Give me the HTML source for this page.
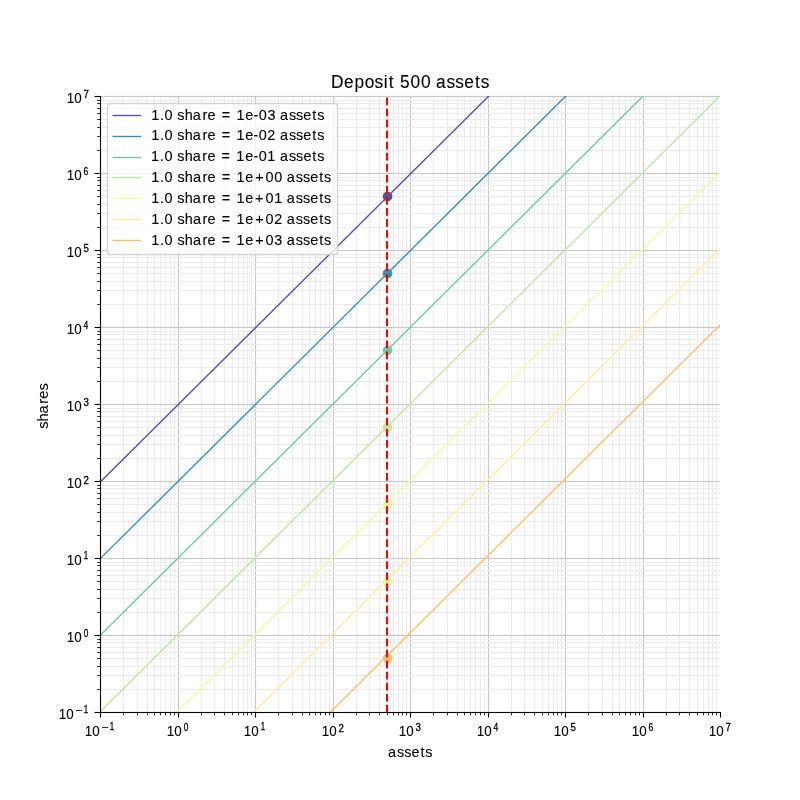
<!DOCTYPE html><html><head><meta charset="utf-8"><title>Deposit 500 assets</title><style>html,body{margin:0;padding:0;background:#fff;width:800px;height:800px;overflow:hidden}svg{display:block;will-change:transform}text{font-family:"Liberation Sans",sans-serif;fill:#000}</style></head><body>
<svg width="800" height="800" viewBox="0 0 800 800">
<defs><clipPath id="ax"><rect x="100" y="96" width="620" height="616"/></clipPath></defs>
<rect width="800" height="800" fill="#fff"/>
<g shape-rendering="crispEdges"><rect x="177" y="96" width="3" height="616" fill="#000" fill-opacity="0.016"/><rect x="178" y="96" width="1" height="616" fill="#c8c8c8"/><rect x="254" y="96" width="3" height="616" fill="#000" fill-opacity="0.016"/><rect x="255" y="96" width="1" height="616" fill="#c8c8c8"/><rect x="332" y="96" width="3" height="616" fill="#000" fill-opacity="0.016"/><rect x="333" y="96" width="1" height="616" fill="#c8c8c8"/><rect x="409" y="96" width="3" height="616" fill="#000" fill-opacity="0.016"/><rect x="410" y="96" width="1" height="616" fill="#c8c8c8"/><rect x="487" y="96" width="3" height="616" fill="#000" fill-opacity="0.016"/><rect x="488" y="96" width="1" height="616" fill="#c8c8c8"/><rect x="564" y="96" width="3" height="616" fill="#000" fill-opacity="0.016"/><rect x="565" y="96" width="1" height="616" fill="#c8c8c8"/><rect x="642" y="96" width="3" height="616" fill="#000" fill-opacity="0.016"/><rect x="643" y="96" width="1" height="616" fill="#c8c8c8"/><rect x="122" y="96" width="3" height="616" fill="#000" fill-opacity="0.008"/><rect x="123" y="96" width="1" height="616" fill="#ececec"/><rect x="136" y="96" width="3" height="616" fill="#000" fill-opacity="0.008"/><rect x="137" y="96" width="1" height="616" fill="#ececec"/><rect x="146" y="96" width="3" height="616" fill="#000" fill-opacity="0.008"/><rect x="147" y="96" width="1" height="616" fill="#ececec"/><rect x="153" y="96" width="3" height="616" fill="#000" fill-opacity="0.008"/><rect x="154" y="96" width="1" height="616" fill="#ececec"/><rect x="159" y="96" width="3" height="616" fill="#000" fill-opacity="0.008"/><rect x="160" y="96" width="1" height="616" fill="#ececec"/><rect x="164" y="96" width="3" height="616" fill="#000" fill-opacity="0.008"/><rect x="165" y="96" width="1" height="616" fill="#ececec"/><rect x="169" y="96" width="3" height="616" fill="#000" fill-opacity="0.008"/><rect x="170" y="96" width="1" height="616" fill="#ececec"/><rect x="173" y="96" width="3" height="616" fill="#000" fill-opacity="0.008"/><rect x="174" y="96" width="1" height="616" fill="#ececec"/><rect x="200" y="96" width="3" height="616" fill="#000" fill-opacity="0.008"/><rect x="201" y="96" width="1" height="616" fill="#ececec"/><rect x="213" y="96" width="3" height="616" fill="#000" fill-opacity="0.008"/><rect x="214" y="96" width="1" height="616" fill="#ececec"/><rect x="223" y="96" width="3" height="616" fill="#000" fill-opacity="0.008"/><rect x="224" y="96" width="1" height="616" fill="#ececec"/><rect x="231" y="96" width="3" height="616" fill="#000" fill-opacity="0.008"/><rect x="232" y="96" width="1" height="616" fill="#ececec"/><rect x="237" y="96" width="3" height="616" fill="#000" fill-opacity="0.008"/><rect x="238" y="96" width="1" height="616" fill="#ececec"/><rect x="242" y="96" width="3" height="616" fill="#000" fill-opacity="0.008"/><rect x="243" y="96" width="1" height="616" fill="#ececec"/><rect x="246" y="96" width="3" height="616" fill="#000" fill-opacity="0.008"/><rect x="247" y="96" width="1" height="616" fill="#ececec"/><rect x="250" y="96" width="3" height="616" fill="#000" fill-opacity="0.008"/><rect x="251" y="96" width="1" height="616" fill="#ececec"/><rect x="277" y="96" width="3" height="616" fill="#000" fill-opacity="0.008"/><rect x="278" y="96" width="1" height="616" fill="#ececec"/><rect x="291" y="96" width="3" height="616" fill="#000" fill-opacity="0.008"/><rect x="292" y="96" width="1" height="616" fill="#ececec"/><rect x="301" y="96" width="3" height="616" fill="#000" fill-opacity="0.008"/><rect x="302" y="96" width="1" height="616" fill="#ececec"/><rect x="308" y="96" width="3" height="616" fill="#000" fill-opacity="0.008"/><rect x="309" y="96" width="1" height="616" fill="#ececec"/><rect x="314" y="96" width="3" height="616" fill="#000" fill-opacity="0.008"/><rect x="315" y="96" width="1" height="616" fill="#ececec"/><rect x="319" y="96" width="3" height="616" fill="#000" fill-opacity="0.008"/><rect x="320" y="96" width="1" height="616" fill="#ececec"/><rect x="324" y="96" width="3" height="616" fill="#000" fill-opacity="0.008"/><rect x="325" y="96" width="1" height="616" fill="#ececec"/><rect x="328" y="96" width="3" height="616" fill="#000" fill-opacity="0.008"/><rect x="329" y="96" width="1" height="616" fill="#ececec"/><rect x="355" y="96" width="3" height="616" fill="#000" fill-opacity="0.008"/><rect x="356" y="96" width="1" height="616" fill="#ececec"/><rect x="368" y="96" width="3" height="616" fill="#000" fill-opacity="0.008"/><rect x="369" y="96" width="1" height="616" fill="#ececec"/><rect x="378" y="96" width="3" height="616" fill="#000" fill-opacity="0.008"/><rect x="379" y="96" width="1" height="616" fill="#ececec"/><rect x="386" y="96" width="3" height="616" fill="#000" fill-opacity="0.008"/><rect x="387" y="96" width="1" height="616" fill="#ececec"/><rect x="392" y="96" width="3" height="616" fill="#000" fill-opacity="0.008"/><rect x="393" y="96" width="1" height="616" fill="#ececec"/><rect x="397" y="96" width="3" height="616" fill="#000" fill-opacity="0.008"/><rect x="398" y="96" width="1" height="616" fill="#ececec"/><rect x="401" y="96" width="3" height="616" fill="#000" fill-opacity="0.008"/><rect x="402" y="96" width="1" height="616" fill="#ececec"/><rect x="405" y="96" width="3" height="616" fill="#000" fill-opacity="0.008"/><rect x="406" y="96" width="1" height="616" fill="#ececec"/><rect x="432" y="96" width="3" height="616" fill="#000" fill-opacity="0.008"/><rect x="433" y="96" width="1" height="616" fill="#ececec"/><rect x="446" y="96" width="3" height="616" fill="#000" fill-opacity="0.008"/><rect x="447" y="96" width="1" height="616" fill="#ececec"/><rect x="456" y="96" width="3" height="616" fill="#000" fill-opacity="0.008"/><rect x="457" y="96" width="1" height="616" fill="#ececec"/><rect x="463" y="96" width="3" height="616" fill="#000" fill-opacity="0.008"/><rect x="464" y="96" width="1" height="616" fill="#ececec"/><rect x="469" y="96" width="3" height="616" fill="#000" fill-opacity="0.008"/><rect x="470" y="96" width="1" height="616" fill="#ececec"/><rect x="474" y="96" width="3" height="616" fill="#000" fill-opacity="0.008"/><rect x="475" y="96" width="1" height="616" fill="#ececec"/><rect x="479" y="96" width="3" height="616" fill="#000" fill-opacity="0.008"/><rect x="480" y="96" width="1" height="616" fill="#ececec"/><rect x="483" y="96" width="3" height="616" fill="#000" fill-opacity="0.008"/><rect x="484" y="96" width="1" height="616" fill="#ececec"/><rect x="510" y="96" width="3" height="616" fill="#000" fill-opacity="0.008"/><rect x="511" y="96" width="1" height="616" fill="#ececec"/><rect x="523" y="96" width="3" height="616" fill="#000" fill-opacity="0.008"/><rect x="524" y="96" width="1" height="616" fill="#ececec"/><rect x="533" y="96" width="3" height="616" fill="#000" fill-opacity="0.008"/><rect x="534" y="96" width="1" height="616" fill="#ececec"/><rect x="541" y="96" width="3" height="616" fill="#000" fill-opacity="0.008"/><rect x="542" y="96" width="1" height="616" fill="#ececec"/><rect x="547" y="96" width="3" height="616" fill="#000" fill-opacity="0.008"/><rect x="548" y="96" width="1" height="616" fill="#ececec"/><rect x="552" y="96" width="3" height="616" fill="#000" fill-opacity="0.008"/><rect x="553" y="96" width="1" height="616" fill="#ececec"/><rect x="556" y="96" width="3" height="616" fill="#000" fill-opacity="0.008"/><rect x="557" y="96" width="1" height="616" fill="#ececec"/><rect x="560" y="96" width="3" height="616" fill="#000" fill-opacity="0.008"/><rect x="561" y="96" width="1" height="616" fill="#ececec"/><rect x="587" y="96" width="3" height="616" fill="#000" fill-opacity="0.008"/><rect x="588" y="96" width="1" height="616" fill="#ececec"/><rect x="601" y="96" width="3" height="616" fill="#000" fill-opacity="0.008"/><rect x="602" y="96" width="1" height="616" fill="#ececec"/><rect x="611" y="96" width="3" height="616" fill="#000" fill-opacity="0.008"/><rect x="612" y="96" width="1" height="616" fill="#ececec"/><rect x="618" y="96" width="3" height="616" fill="#000" fill-opacity="0.008"/><rect x="619" y="96" width="1" height="616" fill="#ececec"/><rect x="624" y="96" width="3" height="616" fill="#000" fill-opacity="0.008"/><rect x="625" y="96" width="1" height="616" fill="#ececec"/><rect x="629" y="96" width="3" height="616" fill="#000" fill-opacity="0.008"/><rect x="630" y="96" width="1" height="616" fill="#ececec"/><rect x="634" y="96" width="3" height="616" fill="#000" fill-opacity="0.008"/><rect x="635" y="96" width="1" height="616" fill="#ececec"/><rect x="638" y="96" width="3" height="616" fill="#000" fill-opacity="0.008"/><rect x="639" y="96" width="1" height="616" fill="#ececec"/><rect x="665" y="96" width="3" height="616" fill="#000" fill-opacity="0.008"/><rect x="666" y="96" width="1" height="616" fill="#ececec"/><rect x="678" y="96" width="3" height="616" fill="#000" fill-opacity="0.008"/><rect x="679" y="96" width="1" height="616" fill="#ececec"/><rect x="688" y="96" width="3" height="616" fill="#000" fill-opacity="0.008"/><rect x="689" y="96" width="1" height="616" fill="#ececec"/><rect x="696" y="96" width="3" height="616" fill="#000" fill-opacity="0.008"/><rect x="697" y="96" width="1" height="616" fill="#ececec"/><rect x="702" y="96" width="3" height="616" fill="#000" fill-opacity="0.008"/><rect x="703" y="96" width="1" height="616" fill="#ececec"/><rect x="707" y="96" width="3" height="616" fill="#000" fill-opacity="0.008"/><rect x="708" y="96" width="1" height="616" fill="#ececec"/><rect x="711" y="96" width="3" height="616" fill="#000" fill-opacity="0.008"/><rect x="712" y="96" width="1" height="616" fill="#ececec"/><rect x="715" y="96" width="3" height="616" fill="#000" fill-opacity="0.008"/><rect x="716" y="96" width="1" height="616" fill="#ececec"/><rect x="100" y="634" width="620" height="3" fill="#000" fill-opacity="0.016"/><rect x="100" y="635" width="620" height="1" fill="#c8c8c8"/><rect x="100" y="557" width="620" height="3" fill="#000" fill-opacity="0.016"/><rect x="100" y="558" width="620" height="1" fill="#c8c8c8"/><rect x="100" y="480" width="620" height="3" fill="#000" fill-opacity="0.016"/><rect x="100" y="481" width="620" height="1" fill="#c8c8c8"/><rect x="100" y="403" width="620" height="3" fill="#000" fill-opacity="0.016"/><rect x="100" y="404" width="620" height="1" fill="#c8c8c8"/><rect x="100" y="326" width="620" height="3" fill="#000" fill-opacity="0.016"/><rect x="100" y="327" width="620" height="1" fill="#c8c8c8"/><rect x="100" y="249" width="620" height="3" fill="#000" fill-opacity="0.016"/><rect x="100" y="250" width="620" height="1" fill="#c8c8c8"/><rect x="100" y="172" width="620" height="3" fill="#000" fill-opacity="0.016"/><rect x="100" y="173" width="620" height="1" fill="#c8c8c8"/><rect x="100" y="95" width="620" height="3" fill="#000" fill-opacity="0.016"/><rect x="100" y="96" width="620" height="1" fill="#c8c8c8"/><rect x="100" y="688" width="620" height="3" fill="#000" fill-opacity="0.008"/><rect x="100" y="689" width="620" height="1" fill="#ececec"/><rect x="100" y="674" width="620" height="3" fill="#000" fill-opacity="0.008"/><rect x="100" y="675" width="620" height="1" fill="#ececec"/><rect x="100" y="665" width="620" height="3" fill="#000" fill-opacity="0.008"/><rect x="100" y="666" width="620" height="1" fill="#ececec"/><rect x="100" y="657" width="620" height="3" fill="#000" fill-opacity="0.008"/><rect x="100" y="658" width="620" height="1" fill="#ececec"/><rect x="100" y="651" width="620" height="3" fill="#000" fill-opacity="0.008"/><rect x="100" y="652" width="620" height="1" fill="#ececec"/><rect x="100" y="646" width="620" height="3" fill="#000" fill-opacity="0.008"/><rect x="100" y="647" width="620" height="1" fill="#ececec"/><rect x="100" y="641" width="620" height="3" fill="#000" fill-opacity="0.008"/><rect x="100" y="642" width="620" height="1" fill="#ececec"/><rect x="100" y="638" width="620" height="3" fill="#000" fill-opacity="0.008"/><rect x="100" y="639" width="620" height="1" fill="#ececec"/><rect x="100" y="611" width="620" height="3" fill="#000" fill-opacity="0.008"/><rect x="100" y="612" width="620" height="1" fill="#ececec"/><rect x="100" y="597" width="620" height="3" fill="#000" fill-opacity="0.008"/><rect x="100" y="598" width="620" height="1" fill="#ececec"/><rect x="100" y="588" width="620" height="3" fill="#000" fill-opacity="0.008"/><rect x="100" y="589" width="620" height="1" fill="#ececec"/><rect x="100" y="580" width="620" height="3" fill="#000" fill-opacity="0.008"/><rect x="100" y="581" width="620" height="1" fill="#ececec"/><rect x="100" y="574" width="620" height="3" fill="#000" fill-opacity="0.008"/><rect x="100" y="575" width="620" height="1" fill="#ececec"/><rect x="100" y="569" width="620" height="3" fill="#000" fill-opacity="0.008"/><rect x="100" y="570" width="620" height="1" fill="#ececec"/><rect x="100" y="564" width="620" height="3" fill="#000" fill-opacity="0.008"/><rect x="100" y="565" width="620" height="1" fill="#ececec"/><rect x="100" y="561" width="620" height="3" fill="#000" fill-opacity="0.008"/><rect x="100" y="562" width="620" height="1" fill="#ececec"/><rect x="100" y="534" width="620" height="3" fill="#000" fill-opacity="0.008"/><rect x="100" y="535" width="620" height="1" fill="#ececec"/><rect x="100" y="520" width="620" height="3" fill="#000" fill-opacity="0.008"/><rect x="100" y="521" width="620" height="1" fill="#ececec"/><rect x="100" y="511" width="620" height="3" fill="#000" fill-opacity="0.008"/><rect x="100" y="512" width="620" height="1" fill="#ececec"/><rect x="100" y="503" width="620" height="3" fill="#000" fill-opacity="0.008"/><rect x="100" y="504" width="620" height="1" fill="#ececec"/><rect x="100" y="497" width="620" height="3" fill="#000" fill-opacity="0.008"/><rect x="100" y="498" width="620" height="1" fill="#ececec"/><rect x="100" y="492" width="620" height="3" fill="#000" fill-opacity="0.008"/><rect x="100" y="493" width="620" height="1" fill="#ececec"/><rect x="100" y="487" width="620" height="3" fill="#000" fill-opacity="0.008"/><rect x="100" y="488" width="620" height="1" fill="#ececec"/><rect x="100" y="484" width="620" height="3" fill="#000" fill-opacity="0.008"/><rect x="100" y="485" width="620" height="1" fill="#ececec"/><rect x="100" y="457" width="620" height="3" fill="#000" fill-opacity="0.008"/><rect x="100" y="458" width="620" height="1" fill="#ececec"/><rect x="100" y="443" width="620" height="3" fill="#000" fill-opacity="0.008"/><rect x="100" y="444" width="620" height="1" fill="#ececec"/><rect x="100" y="434" width="620" height="3" fill="#000" fill-opacity="0.008"/><rect x="100" y="435" width="620" height="1" fill="#ececec"/><rect x="100" y="426" width="620" height="3" fill="#000" fill-opacity="0.008"/><rect x="100" y="427" width="620" height="1" fill="#ececec"/><rect x="100" y="420" width="620" height="3" fill="#000" fill-opacity="0.008"/><rect x="100" y="421" width="620" height="1" fill="#ececec"/><rect x="100" y="415" width="620" height="3" fill="#000" fill-opacity="0.008"/><rect x="100" y="416" width="620" height="1" fill="#ececec"/><rect x="100" y="410" width="620" height="3" fill="#000" fill-opacity="0.008"/><rect x="100" y="411" width="620" height="1" fill="#ececec"/><rect x="100" y="407" width="620" height="3" fill="#000" fill-opacity="0.008"/><rect x="100" y="408" width="620" height="1" fill="#ececec"/><rect x="100" y="380" width="620" height="3" fill="#000" fill-opacity="0.008"/><rect x="100" y="381" width="620" height="1" fill="#ececec"/><rect x="100" y="366" width="620" height="3" fill="#000" fill-opacity="0.008"/><rect x="100" y="367" width="620" height="1" fill="#ececec"/><rect x="100" y="357" width="620" height="3" fill="#000" fill-opacity="0.008"/><rect x="100" y="358" width="620" height="1" fill="#ececec"/><rect x="100" y="349" width="620" height="3" fill="#000" fill-opacity="0.008"/><rect x="100" y="350" width="620" height="1" fill="#ececec"/><rect x="100" y="343" width="620" height="3" fill="#000" fill-opacity="0.008"/><rect x="100" y="344" width="620" height="1" fill="#ececec"/><rect x="100" y="338" width="620" height="3" fill="#000" fill-opacity="0.008"/><rect x="100" y="339" width="620" height="1" fill="#ececec"/><rect x="100" y="333" width="620" height="3" fill="#000" fill-opacity="0.008"/><rect x="100" y="334" width="620" height="1" fill="#ececec"/><rect x="100" y="330" width="620" height="3" fill="#000" fill-opacity="0.008"/><rect x="100" y="331" width="620" height="1" fill="#ececec"/><rect x="100" y="303" width="620" height="3" fill="#000" fill-opacity="0.008"/><rect x="100" y="304" width="620" height="1" fill="#ececec"/><rect x="100" y="289" width="620" height="3" fill="#000" fill-opacity="0.008"/><rect x="100" y="290" width="620" height="1" fill="#ececec"/><rect x="100" y="280" width="620" height="3" fill="#000" fill-opacity="0.008"/><rect x="100" y="281" width="620" height="1" fill="#ececec"/><rect x="100" y="272" width="620" height="3" fill="#000" fill-opacity="0.008"/><rect x="100" y="273" width="620" height="1" fill="#ececec"/><rect x="100" y="266" width="620" height="3" fill="#000" fill-opacity="0.008"/><rect x="100" y="267" width="620" height="1" fill="#ececec"/><rect x="100" y="261" width="620" height="3" fill="#000" fill-opacity="0.008"/><rect x="100" y="262" width="620" height="1" fill="#ececec"/><rect x="100" y="256" width="620" height="3" fill="#000" fill-opacity="0.008"/><rect x="100" y="257" width="620" height="1" fill="#ececec"/><rect x="100" y="253" width="620" height="3" fill="#000" fill-opacity="0.008"/><rect x="100" y="254" width="620" height="1" fill="#ececec"/><rect x="100" y="226" width="620" height="3" fill="#000" fill-opacity="0.008"/><rect x="100" y="227" width="620" height="1" fill="#ececec"/><rect x="100" y="212" width="620" height="3" fill="#000" fill-opacity="0.008"/><rect x="100" y="213" width="620" height="1" fill="#ececec"/><rect x="100" y="203" width="620" height="3" fill="#000" fill-opacity="0.008"/><rect x="100" y="204" width="620" height="1" fill="#ececec"/><rect x="100" y="195" width="620" height="3" fill="#000" fill-opacity="0.008"/><rect x="100" y="196" width="620" height="1" fill="#ececec"/><rect x="100" y="189" width="620" height="3" fill="#000" fill-opacity="0.008"/><rect x="100" y="190" width="620" height="1" fill="#ececec"/><rect x="100" y="184" width="620" height="3" fill="#000" fill-opacity="0.008"/><rect x="100" y="185" width="620" height="1" fill="#ececec"/><rect x="100" y="179" width="620" height="3" fill="#000" fill-opacity="0.008"/><rect x="100" y="180" width="620" height="1" fill="#ececec"/><rect x="100" y="176" width="620" height="3" fill="#000" fill-opacity="0.008"/><rect x="100" y="177" width="620" height="1" fill="#ececec"/><rect x="100" y="149" width="620" height="3" fill="#000" fill-opacity="0.008"/><rect x="100" y="150" width="620" height="1" fill="#ececec"/><rect x="100" y="135" width="620" height="3" fill="#000" fill-opacity="0.008"/><rect x="100" y="136" width="620" height="1" fill="#ececec"/><rect x="100" y="126" width="620" height="3" fill="#000" fill-opacity="0.008"/><rect x="100" y="127" width="620" height="1" fill="#ececec"/><rect x="100" y="118" width="620" height="3" fill="#000" fill-opacity="0.008"/><rect x="100" y="119" width="620" height="1" fill="#ececec"/><rect x="100" y="112" width="620" height="3" fill="#000" fill-opacity="0.008"/><rect x="100" y="113" width="620" height="1" fill="#ececec"/><rect x="100" y="107" width="620" height="3" fill="#000" fill-opacity="0.008"/><rect x="100" y="108" width="620" height="1" fill="#ececec"/><rect x="100" y="102" width="620" height="3" fill="#000" fill-opacity="0.008"/><rect x="100" y="103" width="620" height="1" fill="#ececec"/><rect x="100" y="99" width="620" height="3" fill="#000" fill-opacity="0.008"/><rect x="100" y="100" width="620" height="1" fill="#ececec"/></g>
<g clip-path="url(#ax)"><line x1="23.800" y1="558.000" x2="798.800" y2="-212.000" stroke="#5e4fa2" stroke-width="1.389"/><line x1="23.400" y1="635.000" x2="798.400" y2="-135.000" stroke="#378ebb" stroke-width="1.389"/><line x1="23.100" y1="712.000" x2="798.100" y2="-58.000" stroke="#74c7a5" stroke-width="1.389"/><line x1="22.500" y1="789.000" x2="797.500" y2="19.000" stroke="#bfe5a0" stroke-width="1.389"/><line x1="22.000" y1="866.000" x2="797.000" y2="96.000" stroke="#f1f9a9" stroke-width="1.389"/><line x1="21.500" y1="943.000" x2="796.500" y2="173.000" stroke="#feeda1" stroke-width="1.389"/><line x1="20.500" y1="1020.000" x2="795.500" y2="250.000" stroke="#fdbf6f" stroke-width="1.389"/></g>
<g><circle cx="387.5" cy="196.5" r="4.167" fill="#5e4fa2" stroke="#5e4fa2" stroke-width="1.389"/><circle cx="387.5" cy="273.5" r="4.167" fill="#378ebb" stroke="#378ebb" stroke-width="1.389"/><circle cx="387.5" cy="350.5" r="4.167" fill="#74c7a5" stroke="#74c7a5" stroke-width="1.389"/><circle cx="387.5" cy="427.5" r="4.167" fill="#bfe5a0" stroke="#bfe5a0" stroke-width="1.389"/><circle cx="387.5" cy="504.5" r="4.167" fill="#f1f9a9" stroke="#f1f9a9" stroke-width="1.389"/><circle cx="387.5" cy="581.5" r="4.167" fill="#feeda1" stroke="#feeda1" stroke-width="1.389"/><circle cx="387.5" cy="658.5" r="4.167" fill="#fdbf6f" stroke="#fdbf6f" stroke-width="1.389"/></g>
<g><rect x="385.96" y="704.892" width="2.083" height="7.108" fill="#f00"/><rect x="385.96" y="693.850" width="2.083" height="7.708" fill="#f00"/><rect x="385.96" y="682.808" width="2.083" height="7.708" fill="#f00"/><rect x="385.96" y="671.767" width="2.083" height="7.708" fill="#f00"/><rect x="385.96" y="660.725" width="2.083" height="7.708" fill="#f00"/><rect x="385.96" y="649.683" width="2.083" height="7.708" fill="#f00"/><rect x="385.96" y="638.642" width="2.083" height="7.708" fill="#f00"/><rect x="385.96" y="627.600" width="2.083" height="7.708" fill="#f00"/><rect x="385.96" y="616.558" width="2.083" height="7.708" fill="#f00"/><rect x="385.96" y="605.516" width="2.083" height="7.708" fill="#f00"/><rect x="385.96" y="594.475" width="2.083" height="7.708" fill="#f00"/><rect x="385.96" y="583.433" width="2.083" height="7.708" fill="#f00"/><rect x="385.96" y="572.391" width="2.083" height="7.708" fill="#f00"/><rect x="385.96" y="561.350" width="2.083" height="7.708" fill="#f00"/><rect x="385.96" y="550.308" width="2.083" height="7.708" fill="#f00"/><rect x="385.96" y="539.266" width="2.083" height="7.708" fill="#f00"/><rect x="385.96" y="528.225" width="2.083" height="7.708" fill="#f00"/><rect x="385.96" y="517.183" width="2.083" height="7.708" fill="#f00"/><rect x="385.96" y="506.141" width="2.083" height="7.708" fill="#f00"/><rect x="385.96" y="495.099" width="2.083" height="7.708" fill="#f00"/><rect x="385.96" y="484.058" width="2.083" height="7.708" fill="#f00"/><rect x="385.96" y="473.016" width="2.083" height="7.708" fill="#f00"/><rect x="385.96" y="461.974" width="2.083" height="7.708" fill="#f00"/><rect x="385.96" y="450.933" width="2.083" height="7.708" fill="#f00"/><rect x="385.96" y="439.891" width="2.083" height="7.708" fill="#f00"/><rect x="385.96" y="428.849" width="2.083" height="7.708" fill="#f00"/><rect x="385.96" y="417.808" width="2.083" height="7.708" fill="#f00"/><rect x="385.96" y="406.766" width="2.083" height="7.708" fill="#f00"/><rect x="385.96" y="395.724" width="2.083" height="7.708" fill="#f00"/><rect x="385.96" y="384.682" width="2.083" height="7.708" fill="#f00"/><rect x="385.96" y="373.641" width="2.083" height="7.708" fill="#f00"/><rect x="385.96" y="362.599" width="2.083" height="7.708" fill="#f00"/><rect x="385.96" y="351.557" width="2.083" height="7.708" fill="#f00"/><rect x="385.96" y="340.516" width="2.083" height="7.708" fill="#f00"/><rect x="385.96" y="329.474" width="2.083" height="7.708" fill="#f00"/><rect x="385.96" y="318.432" width="2.083" height="7.708" fill="#f00"/><rect x="385.96" y="307.390" width="2.083" height="7.708" fill="#f00"/><rect x="385.96" y="296.349" width="2.083" height="7.708" fill="#f00"/><rect x="385.96" y="285.307" width="2.083" height="7.708" fill="#f00"/><rect x="385.96" y="274.265" width="2.083" height="7.708" fill="#f00"/><rect x="385.96" y="263.224" width="2.083" height="7.708" fill="#f00"/><rect x="385.96" y="252.182" width="2.083" height="7.708" fill="#f00"/><rect x="385.96" y="241.140" width="2.083" height="7.708" fill="#f00"/><rect x="385.96" y="230.099" width="2.083" height="7.708" fill="#f00"/><rect x="385.96" y="219.057" width="2.083" height="7.708" fill="#f00"/><rect x="385.96" y="208.015" width="2.083" height="7.708" fill="#f00"/><rect x="385.96" y="196.973" width="2.083" height="7.708" fill="#f00"/><rect x="385.96" y="185.932" width="2.083" height="7.708" fill="#f00"/><rect x="385.96" y="174.890" width="2.083" height="7.708" fill="#f00"/><rect x="385.96" y="163.848" width="2.083" height="7.708" fill="#f00"/><rect x="385.96" y="152.807" width="2.083" height="7.708" fill="#f00"/><rect x="385.96" y="141.765" width="2.083" height="7.708" fill="#f00"/><rect x="385.96" y="130.723" width="2.083" height="7.708" fill="#f00"/><rect x="385.96" y="119.682" width="2.083" height="7.708" fill="#f00"/><rect x="385.96" y="108.640" width="2.083" height="7.708" fill="#f00"/><rect x="385.96" y="97.598" width="2.083" height="7.708" fill="#f00"/></g>
<rect x="99.944" y="96" width="1.111" height="616.5" fill="#000"/>
<rect x="100" y="711.944" width="620.5" height="1.111" fill="#000"/>
<g><rect x="94.58" y="634.944" width="5.97" height="1.111" fill="#000"/><rect x="94.58" y="557.944" width="5.97" height="1.111" fill="#000"/><rect x="94.58" y="480.944" width="5.97" height="1.111" fill="#000"/><rect x="94.58" y="403.944" width="5.97" height="1.111" fill="#000"/><rect x="94.58" y="326.944" width="5.97" height="1.111" fill="#000"/><rect x="94.58" y="249.944" width="5.97" height="1.111" fill="#000"/><rect x="94.58" y="172.944" width="5.97" height="1.111" fill="#000"/><rect x="94.58" y="95.944" width="5.97" height="1.111" fill="#000"/><rect x="94.58" y="711.944" width="5.97" height="1.111" fill="#000"/><rect x="97.22" y="689.083" width="2.83" height="0.833" fill="#000"/><rect x="97.22" y="675.083" width="2.83" height="0.833" fill="#000"/><rect x="97.22" y="666.083" width="2.83" height="0.833" fill="#000"/><rect x="97.22" y="658.083" width="2.83" height="0.833" fill="#000"/><rect x="97.22" y="652.083" width="2.83" height="0.833" fill="#000"/><rect x="97.22" y="647.083" width="2.83" height="0.833" fill="#000"/><rect x="97.22" y="642.083" width="2.83" height="0.833" fill="#000"/><rect x="97.22" y="639.083" width="2.83" height="0.833" fill="#000"/><rect x="97.22" y="612.083" width="2.83" height="0.833" fill="#000"/><rect x="97.22" y="598.083" width="2.83" height="0.833" fill="#000"/><rect x="97.22" y="589.083" width="2.83" height="0.833" fill="#000"/><rect x="97.22" y="581.083" width="2.83" height="0.833" fill="#000"/><rect x="97.22" y="575.083" width="2.83" height="0.833" fill="#000"/><rect x="97.22" y="570.083" width="2.83" height="0.833" fill="#000"/><rect x="97.22" y="565.083" width="2.83" height="0.833" fill="#000"/><rect x="97.22" y="562.083" width="2.83" height="0.833" fill="#000"/><rect x="97.22" y="535.083" width="2.83" height="0.833" fill="#000"/><rect x="97.22" y="521.083" width="2.83" height="0.833" fill="#000"/><rect x="97.22" y="512.083" width="2.83" height="0.833" fill="#000"/><rect x="97.22" y="504.083" width="2.83" height="0.833" fill="#000"/><rect x="97.22" y="498.083" width="2.83" height="0.833" fill="#000"/><rect x="97.22" y="493.083" width="2.83" height="0.833" fill="#000"/><rect x="97.22" y="488.083" width="2.83" height="0.833" fill="#000"/><rect x="97.22" y="485.083" width="2.83" height="0.833" fill="#000"/><rect x="97.22" y="458.083" width="2.83" height="0.833" fill="#000"/><rect x="97.22" y="444.083" width="2.83" height="0.833" fill="#000"/><rect x="97.22" y="435.083" width="2.83" height="0.833" fill="#000"/><rect x="97.22" y="427.083" width="2.83" height="0.833" fill="#000"/><rect x="97.22" y="421.083" width="2.83" height="0.833" fill="#000"/><rect x="97.22" y="416.083" width="2.83" height="0.833" fill="#000"/><rect x="97.22" y="411.083" width="2.83" height="0.833" fill="#000"/><rect x="97.22" y="408.083" width="2.83" height="0.833" fill="#000"/><rect x="97.22" y="381.083" width="2.83" height="0.833" fill="#000"/><rect x="97.22" y="367.083" width="2.83" height="0.833" fill="#000"/><rect x="97.22" y="358.083" width="2.83" height="0.833" fill="#000"/><rect x="97.22" y="350.083" width="2.83" height="0.833" fill="#000"/><rect x="97.22" y="344.083" width="2.83" height="0.833" fill="#000"/><rect x="97.22" y="339.083" width="2.83" height="0.833" fill="#000"/><rect x="97.22" y="334.083" width="2.83" height="0.833" fill="#000"/><rect x="97.22" y="331.083" width="2.83" height="0.833" fill="#000"/><rect x="97.22" y="304.083" width="2.83" height="0.833" fill="#000"/><rect x="97.22" y="290.083" width="2.83" height="0.833" fill="#000"/><rect x="97.22" y="281.083" width="2.83" height="0.833" fill="#000"/><rect x="97.22" y="273.083" width="2.83" height="0.833" fill="#000"/><rect x="97.22" y="267.083" width="2.83" height="0.833" fill="#000"/><rect x="97.22" y="262.083" width="2.83" height="0.833" fill="#000"/><rect x="97.22" y="257.083" width="2.83" height="0.833" fill="#000"/><rect x="97.22" y="254.083" width="2.83" height="0.833" fill="#000"/><rect x="97.22" y="227.083" width="2.83" height="0.833" fill="#000"/><rect x="97.22" y="213.083" width="2.83" height="0.833" fill="#000"/><rect x="97.22" y="204.083" width="2.83" height="0.833" fill="#000"/><rect x="97.22" y="196.083" width="2.83" height="0.833" fill="#000"/><rect x="97.22" y="190.083" width="2.83" height="0.833" fill="#000"/><rect x="97.22" y="185.083" width="2.83" height="0.833" fill="#000"/><rect x="97.22" y="180.083" width="2.83" height="0.833" fill="#000"/><rect x="97.22" y="177.083" width="2.83" height="0.833" fill="#000"/><rect x="97.22" y="150.083" width="2.83" height="0.833" fill="#000"/><rect x="97.22" y="136.083" width="2.83" height="0.833" fill="#000"/><rect x="97.22" y="127.083" width="2.83" height="0.833" fill="#000"/><rect x="97.22" y="119.083" width="2.83" height="0.833" fill="#000"/><rect x="97.22" y="113.083" width="2.83" height="0.833" fill="#000"/><rect x="97.22" y="108.083" width="2.83" height="0.833" fill="#000"/><rect x="97.22" y="103.083" width="2.83" height="0.833" fill="#000"/><rect x="97.22" y="100.083" width="2.83" height="0.833" fill="#000"/><rect x="99.944" y="712" width="1.111" height="5.5" fill="#000"/><rect x="177.944" y="712" width="1.111" height="5.5" fill="#000"/><rect x="254.944" y="712" width="1.111" height="5.5" fill="#000"/><rect x="332.944" y="712" width="1.111" height="5.5" fill="#000"/><rect x="409.944" y="712" width="1.111" height="5.5" fill="#000"/><rect x="487.944" y="712" width="1.111" height="5.5" fill="#000"/><rect x="564.944" y="712" width="1.111" height="5.5" fill="#000"/><rect x="642.944" y="712" width="1.111" height="5.5" fill="#000"/><rect x="719.944" y="712" width="1.111" height="5.5" fill="#000"/><rect x="123.083" y="712" width="0.833" height="3.33" fill="#000"/><rect x="137.083" y="712" width="0.833" height="3.33" fill="#000"/><rect x="147.083" y="712" width="0.833" height="3.33" fill="#000"/><rect x="154.083" y="712" width="0.833" height="3.33" fill="#000"/><rect x="160.083" y="712" width="0.833" height="3.33" fill="#000"/><rect x="165.083" y="712" width="0.833" height="3.33" fill="#000"/><rect x="170.083" y="712" width="0.833" height="3.33" fill="#000"/><rect x="174.083" y="712" width="0.833" height="3.33" fill="#000"/><rect x="201.083" y="712" width="0.833" height="3.33" fill="#000"/><rect x="214.083" y="712" width="0.833" height="3.33" fill="#000"/><rect x="224.083" y="712" width="0.833" height="3.33" fill="#000"/><rect x="232.083" y="712" width="0.833" height="3.33" fill="#000"/><rect x="238.083" y="712" width="0.833" height="3.33" fill="#000"/><rect x="243.083" y="712" width="0.833" height="3.33" fill="#000"/><rect x="247.083" y="712" width="0.833" height="3.33" fill="#000"/><rect x="251.083" y="712" width="0.833" height="3.33" fill="#000"/><rect x="278.083" y="712" width="0.833" height="3.33" fill="#000"/><rect x="292.083" y="712" width="0.833" height="3.33" fill="#000"/><rect x="302.083" y="712" width="0.833" height="3.33" fill="#000"/><rect x="309.083" y="712" width="0.833" height="3.33" fill="#000"/><rect x="315.083" y="712" width="0.833" height="3.33" fill="#000"/><rect x="320.083" y="712" width="0.833" height="3.33" fill="#000"/><rect x="325.083" y="712" width="0.833" height="3.33" fill="#000"/><rect x="329.083" y="712" width="0.833" height="3.33" fill="#000"/><rect x="356.083" y="712" width="0.833" height="3.33" fill="#000"/><rect x="369.083" y="712" width="0.833" height="3.33" fill="#000"/><rect x="379.083" y="712" width="0.833" height="3.33" fill="#000"/><rect x="387.083" y="712" width="0.833" height="3.33" fill="#000"/><rect x="393.083" y="712" width="0.833" height="3.33" fill="#000"/><rect x="398.083" y="712" width="0.833" height="3.33" fill="#000"/><rect x="402.083" y="712" width="0.833" height="3.33" fill="#000"/><rect x="406.083" y="712" width="0.833" height="3.33" fill="#000"/><rect x="433.083" y="712" width="0.833" height="3.33" fill="#000"/><rect x="447.083" y="712" width="0.833" height="3.33" fill="#000"/><rect x="457.083" y="712" width="0.833" height="3.33" fill="#000"/><rect x="464.083" y="712" width="0.833" height="3.33" fill="#000"/><rect x="470.083" y="712" width="0.833" height="3.33" fill="#000"/><rect x="475.083" y="712" width="0.833" height="3.33" fill="#000"/><rect x="480.083" y="712" width="0.833" height="3.33" fill="#000"/><rect x="484.083" y="712" width="0.833" height="3.33" fill="#000"/><rect x="511.083" y="712" width="0.833" height="3.33" fill="#000"/><rect x="524.083" y="712" width="0.833" height="3.33" fill="#000"/><rect x="534.083" y="712" width="0.833" height="3.33" fill="#000"/><rect x="542.083" y="712" width="0.833" height="3.33" fill="#000"/><rect x="548.083" y="712" width="0.833" height="3.33" fill="#000"/><rect x="553.083" y="712" width="0.833" height="3.33" fill="#000"/><rect x="557.083" y="712" width="0.833" height="3.33" fill="#000"/><rect x="561.083" y="712" width="0.833" height="3.33" fill="#000"/><rect x="588.083" y="712" width="0.833" height="3.33" fill="#000"/><rect x="602.083" y="712" width="0.833" height="3.33" fill="#000"/><rect x="612.083" y="712" width="0.833" height="3.33" fill="#000"/><rect x="619.083" y="712" width="0.833" height="3.33" fill="#000"/><rect x="625.083" y="712" width="0.833" height="3.33" fill="#000"/><rect x="630.083" y="712" width="0.833" height="3.33" fill="#000"/><rect x="635.083" y="712" width="0.833" height="3.33" fill="#000"/><rect x="639.083" y="712" width="0.833" height="3.33" fill="#000"/><rect x="666.083" y="712" width="0.833" height="3.33" fill="#000"/><rect x="679.083" y="712" width="0.833" height="3.33" fill="#000"/><rect x="689.083" y="712" width="0.833" height="3.33" fill="#000"/><rect x="697.083" y="712" width="0.833" height="3.33" fill="#000"/><rect x="703.083" y="712" width="0.833" height="3.33" fill="#000"/><rect x="708.083" y="712" width="0.833" height="3.33" fill="#000"/><rect x="712.083" y="712" width="0.833" height="3.33" fill="#000"/><rect x="716.083" y="712" width="0.833" height="3.33" fill="#000"/></g>
<text x="84.86" y="735.96" font-size="14.72" textLength="14.90" lengthAdjust="spacingAndGlyphs" stroke="#000" stroke-width="0.1">10</text><text x="109.82" y="730.49" font-size="10.30" textLength="4.38" lengthAdjust="spacingAndGlyphs" stroke="#000" stroke-width="0.3">1</text><rect x="102" y="727.08" width="6.1" height="0.83" fill="#000"/><text x="166.86" y="735.96" font-size="14.72" textLength="14.90" lengthAdjust="spacingAndGlyphs" stroke="#000" stroke-width="0.1">10</text><text x="183.78" y="731.25" font-size="10.30" textLength="4.63" lengthAdjust="spacingAndGlyphs" stroke="#000" stroke-width="0.3">0</text><text x="243.86" y="735.96" font-size="14.72" textLength="14.90" lengthAdjust="spacingAndGlyphs" stroke="#000" stroke-width="0.1">10</text><text x="260.82" y="730.49" font-size="10.30" textLength="4.38" lengthAdjust="spacingAndGlyphs" stroke="#000" stroke-width="0.3">1</text><text x="321.86" y="735.96" font-size="14.72" textLength="14.90" lengthAdjust="spacingAndGlyphs" stroke="#000" stroke-width="0.1">10</text><text x="338.39" y="731.53" font-size="10.30" textLength="5.40" lengthAdjust="spacingAndGlyphs" stroke="#000" stroke-width="0.3">2</text><text x="398.86" y="735.96" font-size="14.72" textLength="14.90" lengthAdjust="spacingAndGlyphs" stroke="#000" stroke-width="0.1">10</text><text x="415.46" y="731.31" font-size="10.30" textLength="5.40" lengthAdjust="spacingAndGlyphs" stroke="#000" stroke-width="0.3">3</text><text x="476.86" y="735.96" font-size="14.72" textLength="14.90" lengthAdjust="spacingAndGlyphs" stroke="#000" stroke-width="0.1">10</text><text x="493.56" y="730.81" font-size="10.30" textLength="4.73" lengthAdjust="spacingAndGlyphs" stroke="#000" stroke-width="0.3">4</text><text x="553.86" y="735.96" font-size="14.72" textLength="14.90" lengthAdjust="spacingAndGlyphs" stroke="#000" stroke-width="0.1">10</text><text x="570.44" y="731.01" font-size="10.30" textLength="5.40" lengthAdjust="spacingAndGlyphs" stroke="#000" stroke-width="0.3">5</text><text x="631.86" y="735.96" font-size="14.72" textLength="14.90" lengthAdjust="spacingAndGlyphs" stroke="#000" stroke-width="0.1">10</text><text x="648.60" y="730.80" font-size="10.30" textLength="4.76" lengthAdjust="spacingAndGlyphs" stroke="#000" stroke-width="0.3">6</text><text x="708.86" y="735.96" font-size="14.72" textLength="14.90" lengthAdjust="spacingAndGlyphs" stroke="#000" stroke-width="0.1">10</text><text x="725.42" y="730.73" font-size="10.30" textLength="5.40" lengthAdjust="spacingAndGlyphs" stroke="#000" stroke-width="0.3">7</text><text x="58.86" y="718.96" font-size="14.72" textLength="14.90" lengthAdjust="spacingAndGlyphs" stroke="#000" stroke-width="0.1">10</text><text x="83.82" y="713.49" font-size="10.30" textLength="4.38" lengthAdjust="spacingAndGlyphs" stroke="#000" stroke-width="0.3">1</text><rect x="76" y="710.08" width="6.1" height="0.83" fill="#000"/><text x="66.86" y="641.96" font-size="14.72" textLength="14.90" lengthAdjust="spacingAndGlyphs" stroke="#000" stroke-width="0.1">10</text><text x="83.78" y="637.25" font-size="10.30" textLength="4.63" lengthAdjust="spacingAndGlyphs" stroke="#000" stroke-width="0.3">0</text><text x="66.86" y="564.96" font-size="14.72" textLength="14.90" lengthAdjust="spacingAndGlyphs" stroke="#000" stroke-width="0.1">10</text><text x="83.82" y="559.49" font-size="10.30" textLength="4.38" lengthAdjust="spacingAndGlyphs" stroke="#000" stroke-width="0.3">1</text><text x="66.86" y="487.96" font-size="14.72" textLength="14.90" lengthAdjust="spacingAndGlyphs" stroke="#000" stroke-width="0.1">10</text><text x="83.39" y="483.53" font-size="10.30" textLength="5.40" lengthAdjust="spacingAndGlyphs" stroke="#000" stroke-width="0.3">2</text><text x="66.86" y="410.96" font-size="14.72" textLength="14.90" lengthAdjust="spacingAndGlyphs" stroke="#000" stroke-width="0.1">10</text><text x="83.46" y="406.31" font-size="10.30" textLength="5.40" lengthAdjust="spacingAndGlyphs" stroke="#000" stroke-width="0.3">3</text><text x="66.86" y="333.96" font-size="14.72" textLength="14.90" lengthAdjust="spacingAndGlyphs" stroke="#000" stroke-width="0.1">10</text><text x="83.56" y="328.81" font-size="10.30" textLength="4.73" lengthAdjust="spacingAndGlyphs" stroke="#000" stroke-width="0.3">4</text><text x="66.86" y="256.96" font-size="14.72" textLength="14.90" lengthAdjust="spacingAndGlyphs" stroke="#000" stroke-width="0.1">10</text><text x="83.44" y="252.01" font-size="10.30" textLength="5.40" lengthAdjust="spacingAndGlyphs" stroke="#000" stroke-width="0.3">5</text><text x="66.86" y="179.96" font-size="14.72" textLength="14.90" lengthAdjust="spacingAndGlyphs" stroke="#000" stroke-width="0.1">10</text><text x="83.60" y="174.80" font-size="10.30" textLength="4.76" lengthAdjust="spacingAndGlyphs" stroke="#000" stroke-width="0.3">6</text><text x="66.86" y="102.96" font-size="14.72" textLength="14.90" lengthAdjust="spacingAndGlyphs" stroke="#000" stroke-width="0.1">10</text><text x="83.42" y="97.73" font-size="10.30" textLength="5.40" lengthAdjust="spacingAndGlyphs" stroke="#000" stroke-width="0.3">7</text><text x="337.70 350.99 361.69 372.10 382.27 391.48 396.62 402.42 408.21 418.99 429.70 439.92 444.94 455.74 464.67 473.82 484.76 490.69" y="87.84" font-size="17.66" transform="scale(0.98,1)" stroke="#000" stroke-width="0.1">Deposit 500 assets</text><text x="396.01 405.20 412.47 419.93 429.00 434.03" y="757.03" font-size="14.72" transform="scale(0.98,1)" stroke="#000" stroke-width="0.1">assets</text><text transform="translate(48.07,428.0) rotate(-90) scale(1.0,1)" x="-0.87 6.54 14.61 24.26 29.30 37.63" y="0" font-size="14.72" stroke="#000" stroke-width="0.1">shares</text>
<rect x="107.5" y="103.5" width="230" height="151" rx="2.78" fill="#fff" fill-opacity="0.8" stroke="#ccc" stroke-opacity="0.8" stroke-width="1.39"/>
<rect x="112.5" y="114.806" width="28.8" height="1.389" fill="#5e4fa2"/><text x="154.25 163.17 167.84 176.36 180.94 188.50 196.74 206.56 211.73 220.11 226.22 236.44 241.24 250.25 258.74 264.02 272.96 281.46 285.65 294.84 302.11 309.56 318.64 323.67" y="119.77" font-size="14.72" transform="scale(0.98,1)" stroke="#000" stroke-width="0.1">1.0 share = 1e-03 assets</text><rect x="112.5" y="135.806" width="28.8" height="1.389" fill="#378ebb"/><text x="154.25 163.17 167.84 176.36 180.94 188.50 196.74 206.56 211.73 220.11 226.22 236.44 241.24 250.25 258.74 264.02 272.76 281.46 285.65 294.84 302.11 309.56 318.64 323.67" y="139.84" font-size="14.72" transform="scale(0.98,1)" stroke="#000" stroke-width="0.1">1.0 share = 1e-02 assets</text><rect x="112.5" y="156.806" width="28.8" height="1.389" fill="#74c7a5"/><text x="154.19 163.10 167.78 176.30 180.87 188.44 196.68 206.50 211.67 220.05 226.15 236.37 241.18 250.19 258.67 263.95 272.81 281.53 285.71 294.90 302.17 309.63 318.70 323.73" y="160.73" font-size="14.72" transform="scale(0.98,1)" stroke="#000" stroke-width="0.1">1.0 share = 1e-01 assets</text><rect x="112.5" y="176.806" width="28.8" height="1.389" fill="#bfe5a0"/><text x="154.38 163.30 167.97 176.49 181.06 188.63 196.87 206.69 211.86 220.24 226.35 236.56 241.37 250.38 260.40 271.03 279.96 288.48 292.66 301.85 309.12 316.58 325.65 330.68" y="181.81" font-size="14.72" transform="scale(0.98,1)" stroke="#000" stroke-width="0.1">1.0 share = 1e+00 assets</text><rect x="112.5" y="197.806" width="28.8" height="1.389" fill="#f1f9a9"/><text x="154.31 163.23 167.91 176.42 181.00 188.57 196.81 206.63 211.80 220.17 226.28 236.50 241.30 250.32 260.34 270.97 279.82 288.54 292.72 301.92 309.19 316.64 325.72 330.74" y="202.77" font-size="14.72" transform="scale(0.98,1)" stroke="#000" stroke-width="0.1">1.0 share = 1e+01 assets</text><rect x="112.5" y="218.806" width="28.8" height="1.389" fill="#feeda1"/><text x="154.38 163.30 167.97 176.49 181.06 188.63 196.87 206.69 211.86 220.24 226.35 236.56 241.37 250.38 260.40 271.03 279.77 288.48 292.66 301.85 309.12 316.58 325.65 330.68" y="223.86" font-size="14.72" transform="scale(0.98,1)" stroke="#000" stroke-width="0.1">1.0 share = 1e+02 assets</text><rect x="112.5" y="239.806" width="28.8" height="1.389" fill="#fdbf6f"/><text x="154.38 163.30 167.97 176.49 181.06 188.63 196.87 206.69 211.86 220.24 226.35 236.56 241.37 250.38 260.40 271.03 279.98 288.48 292.66 301.85 309.12 316.58 325.65 330.68" y="244.80" font-size="14.72" transform="scale(0.98,1)" stroke="#000" stroke-width="0.1">1.0 share = 1e+03 assets</text>
</svg></body></html>
